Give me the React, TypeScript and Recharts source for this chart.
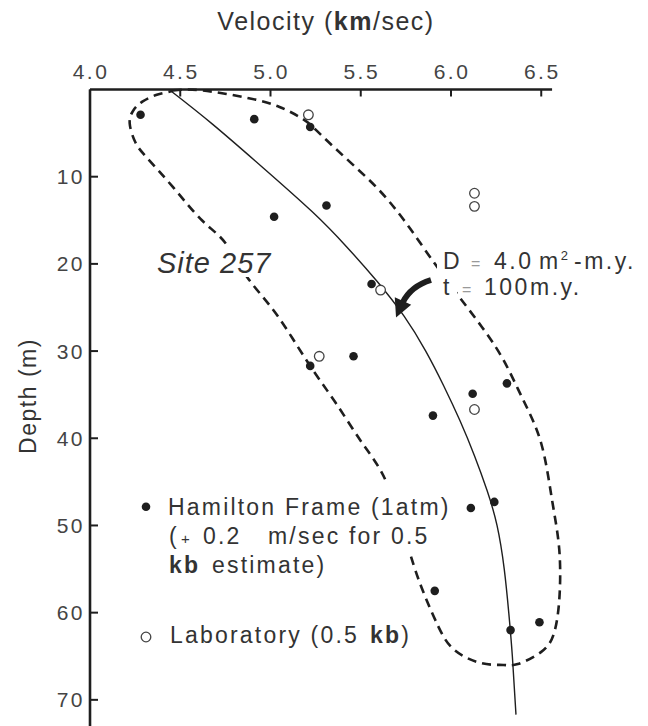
import { Legend, ReferenceLine, Scatter, ScatterChart, XAxis, YAxis } from 'recharts';

// Site 257: velocity vs depth.

const velocityTicks = [4.0, 4.5, 5.0, 5.5, 6.0, 6.5];
const depthTicks = [10, 20, 30, 40, 50, 60, 70];

const hamiltonVelocity = [4.28, 4.91, 5.22, 5.31, 5.02, 5.56, 5.46, 5.22, 6.31, 6.12, 5.9, 6.24, 6.11, 5.91, 6.49, 6.33];
const hamiltonDepth = [2.9, 3.4, 4.3, 13.3, 14.6, 22.3, 30.6, 31.7, 33.7, 34.9, 37.4, 47.3, 48.0, 57.5, 61.1, 62.0];

const labVelocity = [5.21, 6.13, 6.13, 5.61, 5.27, 6.13];
const labDepth = [2.9, 11.9, 13.4, 23.0, 30.6, 36.7];

// model curve (D = 4.0 m2-m.y., t = 100 m.y.)
const modelVelocity = [4.45, 4.68, 4.96, 5.23, 5.42, 5.59, 5.74, 5.86, 5.96, 6.05, 6.13, 6.2, 6.255, 6.295, 6.32, 6.34, 6.36];
const modelDepth = [0.2, 4, 9, 14, 18, 22, 26, 30, 34, 38, 42, 46, 50, 55, 60, 65, 71.7];

// dashed envelope, traced clockwise from the top
const envelopeVelocity = [
  4.46, 4.62, 4.88, 5.05, 5.18, 5.25, 5.32, 5.45, 5.6, 5.74, 5.87, 5.95, 6.05, 6.17, 6.29, 6.4, 6.5, 6.56,
  6.6, 6.6, 6.57, 6.5, 6.37, 6.29, 6.17, 6.02, 5.93, 5.85, 5.77, 5.65, 5.51, 5.36, 5.21, 5.03, 4.87, 4.75,
  4.62, 4.46, 4.31, 4.25, 4.22, 4.24, 4.29, 4.37, 4.44, 4.46,
];
const envelopeDepth = [
  0.1, 0.1, 1.0, 2.0, 3.4, 4.6, 6.0, 8.5, 11.5, 15.0, 18.8, 21.1, 23.9, 27.2, 31.0, 35.6, 40.6, 47.1,
  52.8, 58.5, 62.4, 64.5, 65.9, 66.0, 65.8, 64.3, 61.6, 57.8, 53.0, 45.4, 40.6, 35.9, 31.4, 25.7, 21.5, 17.6,
  15.0, 11.2, 7.7, 6.0, 3.9, 2.4, 1.4, 0.6, 0.25, 0.1,
];

const zip = (vs: number[], ds: number[]) => vs.map((v, i) => ({ v, d: ds[i] }));

const hamilton = zip(hamiltonVelocity, hamiltonDepth);
const laboratory = zip(labVelocity, labDepth);
const model = zip(modelVelocity, modelDepth);
const envelope = zip(envelopeVelocity, envelopeDepth);

const INK = '#1e1e1e';
const TEXT = '#333';
const FONT = '"Liberation Sans", Arial, sans-serif';

function TopTick({ x, y, payload }: any) {
  return (
    <g>
      <line x1={x} y1={y} x2={x} y2={y + 7} stroke={INK} strokeWidth={2} />
      <text x={x + 1} y={y - 11} textAnchor="middle" fontSize={21} fill="#444" letterSpacing={2.5}>
        {payload.value.toFixed(1)}
      </text>
    </g>
  );
}

function LeftTick({ x, y, payload }: any) {
  return (
    <g>
      <line x1={x} y1={y} x2={x + 8} y2={y} stroke={INK} strokeWidth={2} />
      <text x={x - 5} y={y + 7.5} textAnchor="end" fontSize={21} fill="#444" letterSpacing={2.5}>
        {payload.value}
      </text>
    </g>
  );
}

const NoShape = () => <g />;

const FilledDot = ({ cx, cy }: any) => <circle cx={cx} cy={cy} r={4.3} fill={INK} />;
const OpenDot = ({ cx, cy }: any) => (
  <circle cx={cx} cy={cy} r={4.8} fill="#fff" stroke="#444" strokeWidth={1.3} />
);

function LegendBox() {
  const txt = { fontSize: 23, fill: TEXT, letterSpacing: 2.2 } as const;
  return (
    <svg width={340} height={180} style={{ display: 'block', fontFamily: FONT }}>
      <rect x={33} y={7} width={293} height={69} fill="#fff" />
      <circle cx={16} cy={30.7} r={4.3} fill={INK} />
      <text x={38} y={39} {...txt}>Hamilton Frame (1atm)</text>
      <text y={68} {...txt}>
        <tspan x={39}>(</tspan>
        <tspan x={51} fontSize={15}>+</tspan>
        <tspan x={73}>0.2</tspan>
        <tspan x={138}>m/sec for 0.5</tspan>
      </text>
      <text y={97} {...txt}>
        <tspan x={39} fontWeight="bold">kb</tspan>
        <tspan x={82}>estimate)</tspan>
      </text>
      <circle cx={16} cy={161} r={4.8} fill="#fff" stroke="#444" strokeWidth={1.3} />
      <text y={167} {...txt}>
        <tspan x={40}>Laboratory (0.5</tspan>
        <tspan x={240} fontWeight="bold">kb</tspan>
        <tspan>)</tspan>
      </text>
    </svg>
  );
}

export default function App() {
  return (
    <div
      style={{
        position: 'fixed',
        left: 0,
        top: 0,
        width: 648,
        height: 726,
        background: '#fff',
        fontFamily: FONT,
        overflow: 'hidden',
      }}
    >
      <ScatterChart width={648} height={726} margin={{ top: 39.5, right: 86, bottom: 0, left: 30 }}>
        <XAxis
          type="number"
          dataKey="v"
          orientation="top"
          domain={[4, 6.615]}
          ticks={velocityTicks}
          height={50}
          axisLine={false}
          tickLine={false}
          tickSize={0}
          tickMargin={0}
          tick={<TopTick />}
          interval={0}
        />
        <YAxis
          type="number"
          dataKey="d"
          domain={[0, 73]}
          reversed
          ticks={depthTicks}
          width={60}
          axisLine={{ stroke: INK, strokeWidth: 2.6 }}
          tickLine={false}
          tickSize={0}
          tickMargin={0}
          tick={<LeftTick />}
          interval={0}
        />
        <ReferenceLine
          segment={[
            { x: 4, y: 0 },
            { x: 6.56, y: 0 },
          ]}
          stroke={INK}
          strokeWidth={2.6}
        />
        <Scatter
          data={envelope}
          line={{ stroke: INK, strokeWidth: 2.6, strokeDasharray: '9 6' }}
          lineJointType="natural"
          shape={NoShape}
          legendType="none"
          isAnimationActive={false}
        />
        <Scatter
          data={model}
          line={{ stroke: INK, strokeWidth: 1.4 }}
          lineJointType="natural"
          shape={NoShape}
          legendType="none"
          isAnimationActive={false}
        />
        <Scatter name="Hamilton Frame (1atm)" data={hamilton} shape={FilledDot} isAnimationActive={false} />
        <Scatter name="Laboratory (0.5 kb)" data={laboratory} shape={OpenDot} isAnimationActive={false} />
        <Legend
          layout="vertical"
          align="center"
          verticalAlign="middle"
          content={() => <LegendBox />}
          wrapperStyle={{ left: 130, top: 476, width: 340, height: 180 }}
        />
      </ScatterChart>

      {/* titles and annotations */}
      <svg
        width={648}
        height={726}
        style={{ position: 'absolute', left: 0, top: 0, pointerEvents: 'none', fontFamily: FONT }}
      >
        <text x={326} y={30} textAnchor="middle" fontSize={25} fill={TEXT} letterSpacing={1.5}>
          Velocity (<tspan fontWeight="bold">km</tspan>/sec)
        </text>
        <text
          transform="translate(36,396) rotate(-90)"
          textAnchor="middle"
          fontSize={23}
          fill={TEXT}
          letterSpacing={1.5}
        >
          Depth (m)
        </text>

        <rect x={152} y={247} width={126} height={30} fill="#fff" />
        <text x={157} y={273} fontSize={29} fontStyle="italic" fill={TEXT} letterSpacing={1}>
          Site 257
        </text>

        <rect x={437} y={249} width={210} height={27} fill="#fff" />
        <rect x={437} y={276} width={20} height={22} fill="#fff" />
        <text y={269} fontSize={23} fill={TEXT} letterSpacing={2.5}>
          <tspan x={443}>D</tspan>
          <tspan x={471} fontSize={16} fill="#999">=</tspan>
          <tspan x={494}>4.0</tspan>
          <tspan x={539}>m</tspan>
          <tspan dy={-9} fontSize={13}>2</tspan>
          <tspan x={574} dy={9}>-m.y.</tspan>
        </text>
        <text y={295} fontSize={23} fill={TEXT} letterSpacing={2.5}>
          <tspan x={443}>t</tspan>
          <tspan x={462} fontSize={16} fill="#999">=</tspan>
          <tspan x={484}>100</tspan>
          <tspan x={530}>m.y.</tspan>
        </text>

        <path d="M431,280 C418,284 408,292 403,302" fill="none" stroke={INK} strokeWidth={6} />
        <polygon points="394.8,297.2 411.2,304.8 396,317.5" fill={INK} />
      </svg>
    </div>
  );
}
